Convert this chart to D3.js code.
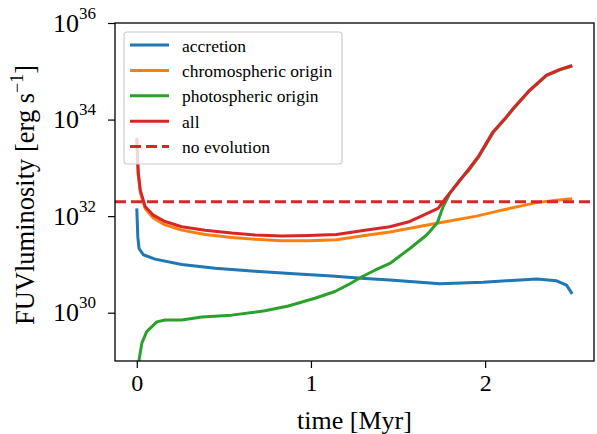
<!DOCTYPE html>
<html>
<head>
<meta charset="utf-8">
<script src="https://cdn.jsdelivr.net/npm/d3@7"></script>
<style>
  html, body { margin: 0; padding: 0; background: #fff; }
  svg { display: block; }
  svg text { font-family: "Liberation Serif", "Times New Roman", serif !important; fill: #000; }
</style>
</head>
<body>
<div id="chart"></div>
<script>
// ---- data (time in Myr, luminosity as log10 erg/s) ----
const seriesNames = ["accretion", "chromospheric origin", "photospheric origin", "all"];
const noEvolutionLabel = "no evolution";
const noEvolutionLog = 32.30;

const accretionT = [0, 0.006, 0.013, 0.038, 0.105, 0.258, 0.449, 0.679, 0.927, 1.119, 1.31, 1.453, 1.74, 1.989, 2.295, 2.41, 2.467, 2.5];
const accretionL = [32.16, 31.57, 31.33, 31.20, 31.11, 31.00, 30.92, 30.86, 30.80, 30.76, 30.71, 30.68, 30.60, 30.63, 30.70, 30.66, 30.57, 30.39];

const chromoT = [0, 0.008, 0.02, 0.048, 0.095, 0.162, 0.258, 0.392, 0.545, 0.679, 0.832, 0.985, 1.147, 1.31, 1.453, 1.73, 1.951, 2.103, 2.295, 2.41, 2.5];
const chromoL = [33.60, 32.88, 32.50, 32.16, 31.96, 31.82, 31.71, 31.62, 31.56, 31.52, 31.49, 31.49, 31.51, 31.60, 31.67, 31.86, 32.00, 32.13, 32.28, 32.33, 32.36];

const photoT = [0.008, 0.013, 0.029, 0.057, 0.115, 0.162, 0.258, 0.373, 0.545, 0.736, 0.87, 1.023, 1.138, 1.214, 1.29, 1.367, 1.453, 1.568, 1.664, 1.725, 1.759, 1.797, 1.855, 1.902, 1.96, 2.046, 2.123, 2.161, 2.256, 2.352, 2.429, 2.5];
const photoL = [28.5, 29.02, 29.37, 29.61, 29.81, 29.85, 29.85, 29.91, 29.95, 30.04, 30.14, 30.30, 30.44, 30.58, 30.74, 30.88, 31.02, 31.33, 31.61, 31.86, 32.20, 32.47, 32.75, 32.93, 33.21, 33.73, 34.05, 34.22, 34.60, 34.91, 35.03, 35.11];

const allT = [0, 0.008, 0.02, 0.048, 0.095, 0.162, 0.258, 0.392, 0.545, 0.679, 0.832, 0.985, 1.147, 1.31, 1.453, 1.568, 1.73, 1.779, 1.836, 1.902, 1.96, 2.046, 2.123, 2.161, 2.256, 2.352, 2.429, 2.5];
const allL = [33.62, 32.92, 32.54, 32.20, 32.02, 31.89, 31.78, 31.71, 31.65, 31.61, 31.59, 31.60, 31.62, 31.71, 31.78, 31.89, 32.16, 32.40, 32.65, 32.96, 33.23, 33.75, 34.06, 34.23, 34.61, 34.92, 35.04, 35.12];

const xTicks = [0, 1, 2];
const yTickExps = [30, 32, 34, 36];
const xLabel = "time [Myr]";

const colors = ["#1f77b4", "#ff7f0e", "#2ca02c", "#d62728"];
const serif = "'Liberation Serif', 'Times New Roman', serif";

// ---- layout ----
const W = 597, H = 434;
const pL = 115, pR = 594, pT = 23, pB = 361;

const svg = d3.select("#chart").append("svg").attr("width", W).attr("height", H);

const x = d3.scaleLinear().domain([-0.125, 2.625]).range([pL, pR]);
const y = d3.scaleLog().domain([1e29, 1e36]).range([pB, pT]);

svg.append("clipPath").attr("id", "clip")
  .append("rect").attr("x", pL).attr("y", pT).attr("width", pR - pL).attr("height", pB - pT);

const plot = svg.append("g").attr("clip-path", "url(#clip)");

const toPts = (ts, ls) => ts.map((t, i) => ({ t: t, v: Math.pow(10, ls[i]) }));
const series = [
  toPts(accretionT, accretionL),
  toPts(chromoT, chromoL),
  toPts(photoT, photoL),
  toPts(allT, allL)
];

const line = d3.line().x(d => x(d.t)).y(d => y(d.v));

series.forEach((s, i) => {
  plot.append("path").datum(s)
    .attr("d", line)
    .attr("fill", "none")
    .attr("stroke", colors[i])
    .attr("stroke-width", 3)
    .attr("stroke-linejoin", "round")
    .attr("stroke-linecap", "butt");
});

// no evolution horizontal line across axis
plot.append("line")
  .attr("x1", pL).attr("x2", pR)
  .attr("y1", y(Math.pow(10, noEvolutionLog))).attr("y2", y(Math.pow(10, noEvolutionLog)))
  .attr("stroke", colors[3]).attr("stroke-width", 3).attr("stroke-dasharray", "11,5");

// ---- axes ----
const xAxis = d3.axisBottom(x).tickValues(xTicks).tickSize(7).tickPadding(6).tickFormat(d3.format("d"));
const gx = svg.append("g").attr("transform", `translate(0,${pB})`).call(xAxis)
  .attr("font-family", serif).attr("font-size", 24);
gx.select(".domain").remove();
gx.selectAll(".tick line").attr("stroke", "#000").attr("stroke-width", 1.2);
gx.selectAll(".tick text").style("font-family", serif).style("font-size", "24px").attr("fill", "#000");

const yAxis = d3.axisLeft(y).tickValues(yTickExps.map(e => Math.pow(10, e))).tickSize(7).tickFormat("");
const gy = svg.append("g").attr("transform", `translate(${pL},0)`).call(yAxis)
  .attr("font-family", serif);
gy.select(".domain").remove();
gy.selectAll(".tick line").attr("stroke", "#000").attr("stroke-width", 1.2);
gy.selectAll(".tick").each(function(d) {
  const t = d3.select(this).append("text")
    .attr("x", -19).attr("y", 8)
    .attr("text-anchor", "end")
    .style("font-family", serif)
    .style("font-size", "26px")
    .attr("fill", "#000");
  t.append("tspan").text("10");
  t.append("tspan").style("font-size", "17px").attr("dy", -13).text(String(Math.round(Math.log10(d))));
});

// frame
svg.append("rect").attr("x", pL).attr("y", pT).attr("width", pR - pL).attr("height", pB - pT)
  .attr("fill", "none").attr("stroke", "#000").attr("stroke-width", 1.3);

// axis labels
svg.append("text").attr("x", (pL + pR) / 2).attr("y", 429)
  .attr("text-anchor", "middle").style("font-family", serif).style("font-size", "26px").text(xLabel);

const yl = svg.append("text")
  .attr("transform", "translate(34,195) rotate(-90)")
  .attr("text-anchor", "middle").style("font-family", serif).style("font-size", "26.5px");
yl.append("tspan").text("FUVluminosity [erg s");
yl.append("tspan").style("font-size", "18px").attr("dy", -11).text("\u22121");
yl.append("tspan").attr("dy", 11).text("]");

// ---- legend ----
const lg = svg.append("g");
lg.append("rect").attr("x", 124).attr("y", 32).attr("width", 218).attr("height", 132)
  .attr("rx", 3).attr("fill", "#fff").attr("fill-opacity", 0.8)
  .attr("stroke", "#cccccc").attr("stroke-width", 1.2);
const legendItems = seriesNames.map((n, i) => ({ name: n, color: colors[i], dash: null }))
  .concat([{ name: noEvolutionLabel, color: colors[3], dash: "11,5" }]);
legendItems.forEach((it, i) => {
  const cy = 45 + i * 25.4;
  lg.append("line").attr("x1", 130).attr("x2", 169).attr("y1", cy).attr("y2", cy)
    .attr("stroke", it.color).attr("stroke-width", 3)
    .attr("stroke-dasharray", it.dash);
  lg.append("text").attr("x", 182).attr("y", cy + 6.5)
    .style("font-family", serif).style("font-size", "17.5px").text(it.name);
});
</script>
</body>
</html>
